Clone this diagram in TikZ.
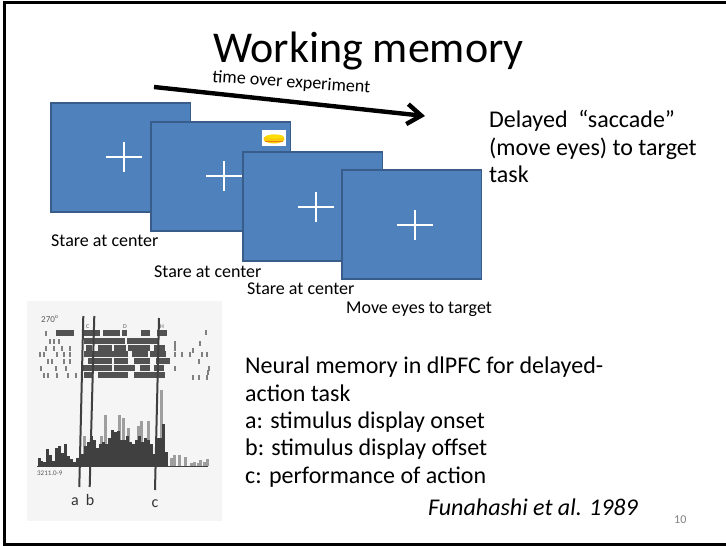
\documentclass[tikz,border=0pt]{standalone}
\usepackage{xcolor}
\usepackage{fontspec}
\setmainfont{Carlito}
\usetikzlibrary{arrows.meta}
\definecolor{slideblue}{HTML}{4F81BD}
\definecolor{slideedge}{HTML}{385D8A}

\begin{document}
\begin{tikzpicture}[x=1pt,y=-1pt,
    screen/.style={draw=slideedge, fill=slideblue, line width=1.3pt},
    cross/.style={draw=white, line width=2pt},
    txt/.style={anchor=base west, inner sep=0pt, text=black},
    small/.style={txt, font=\fontsize{18}{18}\selectfont},
    body/.style={txt, font=\fontsize{24}{24}\selectfont},
    photomark/.style={anchor=base west, inner sep=0pt, text=black!65},
    tick/.style={draw=black!75, line width=2pt},
    bar/.style={fill=black!75},
    barlight/.style={fill=black!38}]
    \useasboundingbox (0,0) rectangle (726,546);
    \fill[white] (0,0) rectangle (726,546);
    \fill (3,1) rectangle (726,3.5);
    \fill (3,1) rectangle (6,546);
    \fill (3,542.5) rectangle (726,546);

    \node[txt, font=\fontsize{44}{44}\selectfont] (title) at (213,62) {Working memory};

    % the four screens
    \foreach \x/\y/\cx/\cy/\n in {51/103/124/157/one, 151/122/224/176/two, 243/152/316/207/three, 342/170/415/225/four}{
      \draw[screen] (\x,\y) rectangle ++(139.5,109);
      \draw[cross] (\cx-18,\cy) -- (\cx+18,\cy);
      \draw[cross] (\cx,\cy-15) -- (\cx,\cy+15);
    }
    % banana
    \fill[white] (262,130) rectangle (286,146);
    \fill[yellow!65!orange] (274,139) ellipse (10.5 and 4.5);
    \fill[yellow!80!orange] (275,136.5) ellipse (8.5 and 2);
    \draw[orange!70!brown, line width=0.5pt] (265,141) -- (283,141);

    \coordinate (tstart) at (154,87);
    \coordinate (tend) at (425,116);
    \draw[line width=4.4pt, -{Straight Barb[length=14pt,width=20pt,line width=4.4pt]}] (tstart) -- (tend);
    \node[small, rotate=-4] (tlabel) at (212,82) {time over experiment};

    \node[body] (taskA) at (489,127) {Delayed ~“saccade”};
    \node[body] (taskB) at (489,155) {(move eyes) to target};
    \node[body] (taskC) at (489,182) {task};

    \node[small] (capA) at (51,246) {Stare at center};
    \node[small] (capB) at (154,277) {Stare at center};
    \node[small] (capC) at (247,294) {Stare at center};
    \node[small] (capD) at (346,313) {Move eyes to target};

    % recording
    \fill[black!4] (27,301) rectangle (222,521);
    \node[photomark, font=\fontsize{9}{9}\selectfont] (deg) at (41,322) {270\textsuperscript{o}};
    \node[photomark, font=\fontsize{6}{6}\selectfont] (markc) at (86,328) {C};
    \node[photomark, font=\fontsize{6}{6}\selectfont] (markd) at (123,328) {D};
    \node[photomark, font=\fontsize{6}{6}\selectfont] (markh) at (160,328) {H};
    \node[photomark, font=\fontsize{7}{7}\selectfont] (cell) at (37,475) {3211.0-9};

    % dense part of the raster
    \foreach \y/\l in {333/{56/74,84/100,103/120,122/127,141/150,157/167},
                       341/{84/125,127/158},
                       348/{86/92,98/112,114/126,128/150,154/165},
                       354/{84/128,132/148,150/166},
                       361/{88/112,114/128,134/150,156/170},
                       368/{83/112,114/135,140/150,154/164},
                       375/{84/92,98/128,134/165}}{
      \foreach \a/\b in \l {
        \fill[black!68] (\a,\y-2.7) rectangle (\b,\y+2.7);
      }
    }
    % loose spikes of the raster
    \foreach \x/\y in {46/333,50/341,54/341,59/341,46/348,54/348,62/348,70/348,40/354,44/354,57/354,64/354,70/354,48/361,52/361,64/361,70/361,41/368,56/368,66/368,44/375,48/375,57/375,68/375,76/375,175/343,175/348,200/343,193/350,175/354,182/354,190/354,202/354,207/354,199/361,175/368,209/368,208/372,193/377,199/377,207/377,206/332}{
      \fill[black!50] (\x-1,\y-2.5) rectangle (\x+1,\y+2.5);
    }
    % histogram
    \foreach \x/\h in {83/30,100/30,104/51,118/51,122/48,127/38,137/40,140/45,147/45,160/76}{
      \fill[barlight] (\x,466) rectangle ++(3,-\h);
    }
    \foreach \x/\h in {38/8,40/5,43/4,46/17,49/11,52/5,55/18,58/20,61/13,64/22,67/10,70/7,73/4,76/8,81/12,84/20,87/24,90/30,93/26,96/18,99/22,102/24,105/22,108/28,111/36,114/34,117/35,120/26,123/26,126/30,129/24,132/22,135/26,138/30,141/24,144/28,147/26,150/22,153/12,156/28,159/28,162/42,165/14}{
      \fill[bar] (\x,466) rectangle ++(3,-\h);
    }
    \foreach \x/\h in {170/8,173/11,178/11,184/9,190/3,193/4,197/3,199/6,203/4,206/7}{
      \fill[barlight] (\x,466) rectangle ++(2.5,-\h);
    }
    \draw[black!75, line width=1pt] (37,466) -- (208,466);

    \coordinate (atop) at (83.3,316);
    \coordinate (abot) at (79.3,487);
    \coordinate (btop) at (94.3,316);
    \coordinate (bbot) at (89.7,487);
    \coordinate (ctop) at (159,318);
    \coordinate (cbot) at (155,490);
    \draw[tick] (atop) -- (abot);
    \draw[tick] (btop) -- (bbot);
    \draw[tick] (ctop) -- (cbot);
    \node[anchor=base, inner sep=0pt, text=black!80, font=\fontsize{16}{16}\selectfont] (la) at (75,505) {a};
    \node[anchor=base, inner sep=0pt, text=black!80, font=\fontsize{16}{16}\selectfont] (lb) at (90,505) {b};
    \node[anchor=base, inner sep=0pt, text=black!80, font=\fontsize{16}{16}\selectfont] (lc) at (155,507) {c};

    \node[body] (neurA) at (245,373) {Neural memory in dlPFC for delayed-};
    \node[body] (neurB) at (245,401) {action task};
    \node[body] (neurC) at (245,428) {a: stimulus display onset};
    \node[body] (neurD) at (245,455) {b: stimulus display offset};
    \node[body] (neurE) at (245,483) {c: performance of action};
    \node[body, font=\fontsize{24}{24}\selectfont\itshape] (cite) at (428,515) {Funahashi et al. 1989};
    \node[anchor=base west, inner sep=0pt, text=black!50, font=\fontsize{12}{12}\selectfont] (num) at (674,523) {10};
  \end{tikzpicture}
\end{document}
